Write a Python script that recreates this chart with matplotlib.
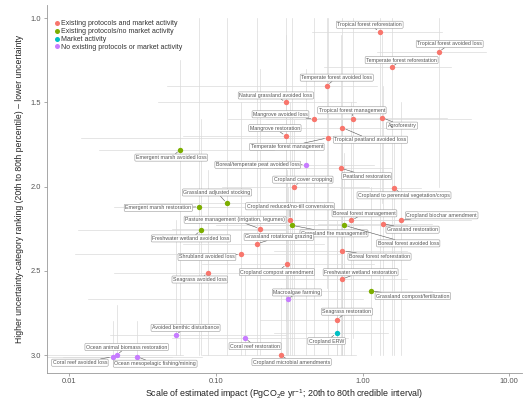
import numpy as np
import matplotlib
matplotlib.use('Agg')
import matplotlib.pyplot as plt
from matplotlib.lines import Line2D

plt.rcParams['font.family'] = ['Liberation Sans', 'DejaVu Sans']
plt.rcParams['mathtext.fontset'] = 'custom'
plt.rcParams['mathtext.rm'] = 'Liberation Sans'
plt.rcParams['mathtext.it'] = 'Liberation Sans:italic'

# pathway names, median impact (PgCO2e/yr), 20th-80th impact, ranking and its 20th-80th
names = [
    'Tropical forest reforestation', 'Tropical forest avoided loss', 'Temperate forest reforestation',
    'Temperate forest avoided loss', 'Natural grassland avoided loss', 'Mangrove avoided loss',
    'Tropical forest management', 'Agroforestry', 'Tropical peatland avoided loss',
    'Mangrove restoration', 'Temperate forest management', 'Emergent marsh avoided loss',
    'Boreal/temperate peat avoided loss', 'Peatland restoration', 'Cropland cover cropping',
    'Cropland to perennial vegetation/crops', 'Grassland adjusted stocking', 'Emergent marsh restoration',
    'Cropland reduced/no-till conversions', 'Pasture management (irrigation, legumes)', 'Grassland fire management',
    'Boreal forest avoided loss', 'Boreal forest management', 'Cropland biochar amendment',
    'Grassland restoration', 'Grassland rotational grazing', 'Freshwater wetland avoided loss',
    'Shrubland avoided loss', 'Cropland compost amendment', 'Seagrass avoided loss',
    'Boreal forest reforestation', 'Freshwater wetland restoration', 'Grassland compost/fertilization',
    'Macroalgae farming', 'Seagrass restoration', 'Cropland ERW',
    'Avoided benthic disturbance', 'Coral reef restoration', 'Cropland microbial amendments',
    'Ocean animal biomass restoration', 'Coral reef avoided loss', 'Ocean mesopelagic fishing/mining',
]
impact = [1.31, 3.31, 1.58, 0.57, 0.30, 0.47, 0.86, 1.36, 0.73, 0.30, 0.58, 0.057,
          0.41, 0.71, 0.34, 1.64, 0.119, 0.077, 0.32, 0.20, 0.33, 0.75, 0.84, 1.82,
          1.37, 0.19, 0.079, 0.148, 0.305, 0.088, 0.73, 0.72, 1.14, 0.31, 0.67, 0.665,
          0.053, 0.158, 0.276, 0.021, 0.0198, 0.029]
impact_lo = [0.45, 1.25, 0.55, 0.046, 0.04, 0.12, 0.22, 0.5, 0.25, 0.06, 0.012, 0.016,
             0.1, 0.25, 0.11, 0.7, 0.03, 0.02, 0.1, 0.05, 0.1, 0.3, 0.3, 0.45,
             0.5, 0.06, 0.0115, 0.011, 0.08, 0.02, 0.25, 0.2, 0.4, 0.0134, 0.2, 0.25,
             0.019, 0.05, 0.08, 0.007, 0.007, 0.009]
impact_hi = [3.5, 7.0, 4.0, 1.25, 0.9, 1.4, 5.5, 3.8, 2.2, 0.9, 1.6, 0.25,
             1.2, 1.6, 1.1, 2.5, 0.5, 0.3, 1.0, 0.55, 1.0, 2.0, 2.3, 5.5,
             3.0, 0.55, 0.3, 0.7, 1.2, 0.35, 2.0, 2.0, 3.0, 1.0, 1.8, 1.5,
             0.3, 0.8, 0.9, 0.06, 0.05, 0.08]
rank = [1.08, 1.20, 1.29, 1.40, 1.50, 1.60, 1.60, 1.59, 1.65, 1.70, 1.71, 1.78,
        1.87, 1.89, 2.00, 2.01, 2.10, 2.12, 2.20, 2.25, 2.23, 2.23, 2.20, 2.20,
        2.22, 2.34, 2.26, 2.40, 2.46, 2.51, 2.38, 2.55, 2.62, 2.67, 2.79, 2.87,
        2.88, 2.90, 3.00, 3.00, 3.01, 3.01]
rank_lo = [1.0, 1.0, 1.0, 1.0, 1.0, 1.0, 1.0, 1.1, 1.0, 1.1, 1.0, 1.25,
           1.3, 1.1, 1.6, 1.7, 1.0, 1.0, 1.5, 1.3, 1.0, 1.8, 1.5, 1.5,
           1.4, 1.0, 1.6, 1.5, 1.9, 1.9, 1.6, 1.9, 2.0, 2.0, 2.2, 2.3,
           2.2, 2.5, 2.6, 2.7, 2.8, 2.8]
rank_hi = [3.0, 2.0, 3.0, 2.6, 2.8, 3.0, 2.9, 2.1, 3.0, 3.0, 3.0, 3.0,
           3.0, 3.0, 3.0, 3.0, 3.0, 3.0, 3.0, 3.0, 3.0, 3.0, 3.0, 3.0,
           3.0, 3.0, 3.0, 3.0, 3.0, 3.0, 3.0, 3.0, 3.0, 3.0, 3.0, 3.0,
           3.0, 3.0, 3.0, 3.0, 3.0, 3.0]
group = [0, 0, 0, 0, 0, 0, 0, 0, 0, 0, 0, 1,
         3, 0, 0, 0, 1, 1, 0, 0, 1, 1, 0, 0,
         0, 0, 1, 0, 0, 0, 0, 0, 1, 3, 0, 2,
         3, 3, 0, 3, 3, 3]
group_names = ['Existing protocols and market activity', 'Existing protocols/no market activity',
               'Market activity', 'No existing protocols or market activity']
group_colors = ['#F8766D', '#7CAE00', '#00BFC4', '#C77CFF']

# label placement (pixels from point: right, down)
label_offsets = [(-10, -7), (11, -8), (10, -7), (10, -8), (-10, -7), (-34, -5),
                 (-1, -9), (20, 8), (28, 12), (-11, -8), (-41, 9), (-9, 8),
                 (-48, 0), (26, 8), (9, -7), (10, 7), (-10, -11), (-41, 1),
                 (0, -14), (-25, -9), (42, 8), (64, 18), (13, -7), (41, -5),
                 (30, 6), (22, -7), (-10, 8), (-34, 3), (-10, 8), (-8, 7),
                 (37, 6), (19, -7), (42, 5), (9, -7), (10, -8), (-10, 8),
                 (10, -7), (10, 8), (11, 7), (10, -8), (-33, 6), (18, 7)]

fig = plt.figure(figsize=(5.27, 4.01), dpi=100)
ax = fig.add_axes([0.089, 0.0706, 0.901, 0.917])

# credible intervals
for i in range(len(names)):
    ax.plot([impact_lo[i], impact_hi[i]], [rank[i], rank[i]], color='#dadada', lw=0.5, zorder=1)
    ax.plot([impact[i], impact[i]], [rank_lo[i], rank_hi[i]], color='#dadada', lw=0.5, zorder=1)

for g in range(4):
    idx = [i for i in range(len(names)) if group[i] == g]
    ax.scatter([impact[i] for i in idx], [rank[i] for i in idx], s=15,
               color=group_colors[g], zorder=3, linewidths=0)

for i in range(len(names)):
    dx, dy = label_offsets[i]
    ax.annotate(names[i], (impact[i], rank[i]), xytext=(dx, -dy), textcoords='offset pixels',
                ha='center', va='center', fontsize=3.75, color='#555555', zorder=4,
                bbox=dict(boxstyle='round,pad=0.2,rounding_size=0.2', fc='white', ec='#999999', lw=0.4),
                arrowprops=dict(arrowstyle='-', color='#555555', lw=0.4, shrinkA=0, shrinkB=2.5))

ax.set_xscale('log')
ax.set_xlim(0.00702, 12.2)
ax.set_ylim(3.105, 0.921)
ax.set_xticks([0.01, 0.1, 1, 10])
ax.set_xticklabels(['0.01', '0.10', '1.00', '10.00'])
ax.minorticks_off()
ax.set_yticks([1.0, 1.5, 2.0, 2.5, 3.0])
ax.set_yticklabels(['1.0', '1.5', '2.0', '2.5', '3.0'])
ax.tick_params(labelsize=5.4, length=2, width=0.5, color='#888888', labelcolor='#555555', pad=2)

for s in ['top', 'right']:
    ax.spines[s].set_visible(False)
for s in ['left', 'bottom']:
    ax.spines[s].set_color('#999999')
    ax.spines[s].set_linewidth(0.6)

ax.set_xlabel(r'Scale of estimated impact (PgCO$_2$e yr$^{-1}$; 20th to 80th credible interval)',
              fontsize=6.4, color='#222222', labelpad=1.5)
ax.set_ylabel('Higher uncertainty-category ranking (20th to 80th percentile) \u2013 lower uncertainty',
              fontsize=6.2, color='#222222', labelpad=5)

handles = [Line2D([0], [0], marker='o', ls='', markersize=3.6, markerfacecolor=c, markeredgewidth=0)
           for c in group_colors]
ax.legend(handles, group_names, loc='upper left', bbox_to_anchor=(0.0, 0.975), frameon=False,
          fontsize=5.0, handletextpad=0.2, labelspacing=0.12, handlelength=1.0, borderaxespad=0.5,
          labelcolor='#333333')

fig.savefig('out.png', dpi=100)
